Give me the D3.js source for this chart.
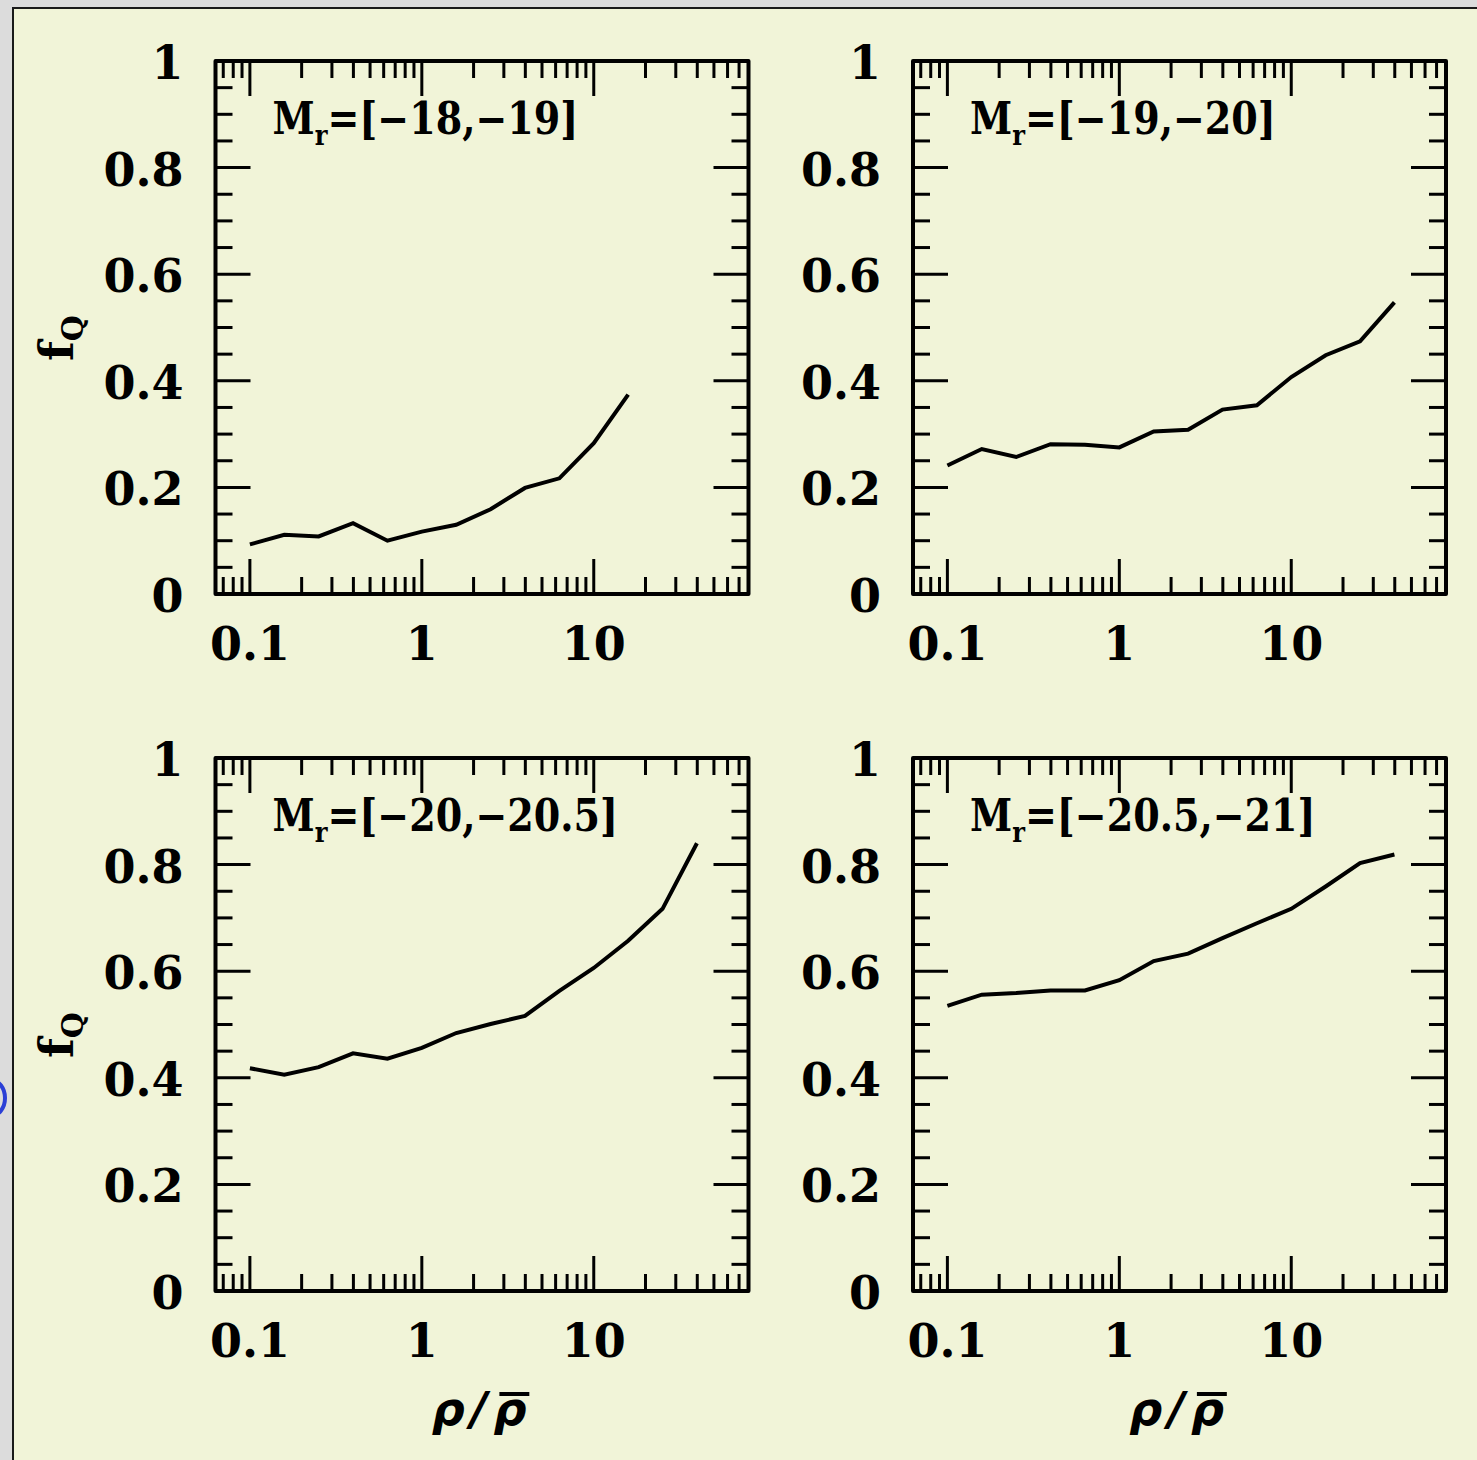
<!DOCTYPE html>
<html><head><meta charset="utf-8">
<script src="https://cdn.jsdelivr.net/npm/d3@7"></script>
<style>html,body{margin:0;padding:0;background:#dcdcdc;} svg{display:block}</style>
</head><body>
<script>
// ---- data ----
const rho = [0.1, 0.1585, 0.2512, 0.3981, 0.631, 1, 1.585, 2.512, 3.981, 6.31, 10, 15.85, 25.12, 39.81];
const fq1 = [0.093, 0.111, 0.108, 0.133, 0.100, 0.117, 0.130, 0.159, 0.199, 0.217, 0.283, 0.374];
const fq2 = [0.241, 0.272, 0.257, 0.281, 0.280, 0.275, 0.305, 0.308, 0.346, 0.354, 0.407, 0.448, 0.474, 0.547];
const fq3 = [0.418, 0.406, 0.420, 0.446, 0.436, 0.456, 0.484, 0.501, 0.516, 0.563, 0.606, 0.657, 0.717, 0.840];
const fq4 = [0.535, 0.556, 0.559, 0.564, 0.564, 0.583, 0.619, 0.633, 0.662, 0.690, 0.717, 0.759, 0.803, 0.819];
const magRanges = ["=[\u221218,\u221219]", "=[\u221219,\u221220]", "=[\u221220,\u221220.5]", "=[\u221220.5,\u221221]"];
const xTickLabels = [0.1, 1, 10];
const yTickLabels = [0, 0.2, 0.4, 0.6, 0.8, 1];
const series = [fq1, fq2, fq3, fq4];

// ---- layout ----
const W = 1477, H = 1460;
const pw = 533, ph = 533;
const lefts = [215.5, 913], tops = [61, 758];
const serif = "'DejaVu Serif', serif";

const svg = d3.select("body").append("svg").attr("width", W).attr("height", H);
svg.append("rect").attr("width", W).attr("height", H).attr("fill", "#dcdcdc");
svg.append("rect").attr("x", 13).attr("y", 8).attr("width", W).attr("height", H)
  .attr("fill", "#f1f4d8").attr("stroke", "#1a1a1a").attr("stroke-width", 2);
svg.append("ellipse").attr("cx", -9).attr("cy", 1098).attr("rx", 14).attr("ry", 18)
  .attr("fill", "none").attr("stroke", "#2b3fd6").attr("stroke-width", 4);

const x = d3.scaleLog().domain([Math.pow(10, -1.2), Math.pow(10, 1.9)]).range([0, pw]);
const y = d3.scaleLinear().domain([0, 1]).range([ph, 0]);
const xMinor = x.ticks();
const isMajorX = v => Math.abs(Math.log10(v) - Math.round(Math.log10(v))) < 1e-6;
const yMinor = d3.range(0, 21).map(i => i / 20);
const isMajorY = v => Math.abs(v * 5 - Math.round(v * 5)) < 1e-6;
const MAJ = 35, MIN = 17;

const labelNodes = [];

series.forEach((vals, i) => {
  const col = i % 2, row = Math.floor(i / 2);
  const g = svg.append("g").attr("transform", `translate(${lefts[col]},${tops[row]})`);
  const ticks = g.append("g").attr("stroke", "#000").attr("stroke-width", 3);
  xMinor.forEach(v => {
    const L = isMajorX(v) ? MAJ : MIN;
    ticks.append("line").attr("x1", x(v)).attr("x2", x(v)).attr("y1", ph).attr("y2", ph - L);
    ticks.append("line").attr("x1", x(v)).attr("x2", x(v)).attr("y1", 0).attr("y2", L);
  });
  yMinor.forEach(v => {
    const L = isMajorY(v) ? MAJ : MIN;
    ticks.append("line").attr("x1", 0).attr("x2", L).attr("y1", y(v)).attr("y2", y(v));
    ticks.append("line").attr("x1", pw).attr("x2", pw - L).attr("y1", y(v)).attr("y2", y(v));
  });
  g.append("rect").attr("width", pw).attr("height", ph).attr("fill", "none")
    .attr("stroke", "#000").attr("stroke-width", 4).attr("stroke-linejoin", "round");

  // tick labels
  g.selectAll(".yl").data(yTickLabels).enter().append("text")
    .attr("x", -32).attr("y", d => y(d) + 18).attr("text-anchor", "end")
    .attr("font-family", serif).attr("font-weight", "bold").attr("font-size", 46)
    .text(d => d3.format("~g")(d));
  g.selectAll(".xl").data(xTickLabels).enter().append("text")
    .attr("x", d => x(d)).attr("y", ph + 66).attr("text-anchor", "middle")
    .attr("font-family", serif).attr("font-weight", "bold").attr("font-size", 46)
    .text(d => d3.format("~g")(d));

  // data line
  const pts = vals.map((v, k) => [rho[k], v]);
  g.append("path").datum(pts).attr("fill", "none").attr("stroke", "#000").attr("stroke-width", 4)
    .attr("d", d3.line().x(d => x(d[0])).y(d => y(d[1])));

  // panel annotation
  const t = g.append("text").attr("font-family", serif).attr("font-weight", "bold").attr("font-size", 44);
  t.append("tspan").text("M");
  t.append("tspan").attr("font-size", 28).attr("dy", 11).text("r");
  t.append("tspan").attr("dy", -11).text(magRanges[i]);
  labelNodes.push({t, x0: 57, y0: 73});

  // axis titles
  if (col === 0) {
    const ft = g.append("text").attr("transform", `translate(${-143},${277}) rotate(-90)`)
      .attr("text-anchor", "middle").attr("font-family", serif).attr("font-weight", "bold").attr("font-size", 46);
    ft.append("tspan").text("f");
    ft.append("tspan").attr("font-size", 30).attr("dy", 10).text("Q");
  }
  if (row === 1) {
    const xt = g.append("text").attr("x", pw / 2).attr("y", ph + 134).attr("text-anchor", "middle")
      .attr("font-family", "'DejaVu Sans', sans-serif").attr("font-style", "italic").attr("font-weight", "bold")
      .attr("font-size", 46).attr("letter-spacing", 6).text("\u03c1/\u03c1");
    const e = xt.node().getExtentOfChar(2);
    g.append("line").attr("x1", e.x + 6).attr("x2", e.x + e.width - 3)
      .attr("y1", ph + 134 - 31).attr("y2", ph + 134 - 31).attr("stroke", "#000").attr("stroke-width", 4);
  }
});

// condense annotation font to match reference width
const w0 = labelNodes[0].t.node().getComputedTextLength();
const s = 306 / w0;
labelNodes.forEach(({t, x0, y0}) => t.attr("transform", `translate(${x0},${y0}) scale(${s},1)`));
</script>
</body></html>
